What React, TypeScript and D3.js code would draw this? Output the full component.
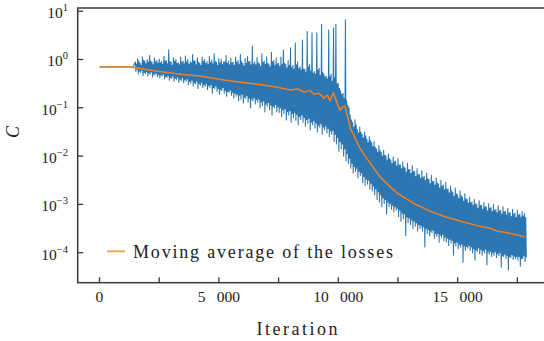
import React from "react";
import * as d3 from "d3";

// Loss history: flat warm-up, then four logged losses per 100 iterations
// (outer high, outer low, inner high, inner low), stored as log10 values.
const warmupIters = [0, 500, 1000, 1400];
const warmupLoss = [0.7, 0.7, 0.7, 0.7];

const swingStart = 1500;
const swingStep = 100;

const outerHighLog10 = [
  -0.05, 0.02, -0.08, 0.05, -0.03, 0.0, 0.08, -0.06, 0.03, -0.02,
  0.01, -0.04, 0.06, -0.02, 0.2, -0.05, 0.04, 0.0, -0.07, 0.05,
  -0.03, 0.07, 0.0, -0.05, 0.1, -0.02, 0.03, -0.08, 0.05, 0.0,
  -0.04, 0.06, -0.01, 0.12, -0.06, 0.02, 0.0, -0.05, 0.08, -0.03,
  0.03, -0.06, 0.05, -0.02, 0.1, -0.08, 0.02, 0.06, -0.04, 0.28,
  -0.05, 0.04, -0.09, 0.12, -0.03, 0.05, -0.1, 0.15, -0.02, 0.03,
  -0.08, 0.05, 0.2, -0.1, -0.02, 0.24, -0.12, 0.34, -0.05, -0.15,
  0.4, -0.2, 0.58, -0.1, 0.55, -0.25, 0.55, -0.18, 0.73, -0.3,
  -0.35, 0.61, -0.3, 0.65, 0.73, -0.5, -0.65, -0.7, 0.82, -0.95,
  -1.15, -1.3, -1.25, -1.45, -1.4, -1.55, -1.5, -1.65, -1.6, -1.72,
  -1.7, -1.85, -1.78, -1.92, -1.88, -2.0, -1.95, -2.08, -2.02, -2.1,
  -2.05, -2.18, -2.12, -2.25, -2.15, -2.28, -2.2, -2.32, -2.26, -2.38,
  -2.3, -2.42, -2.35, -2.48, -2.4, -2.52, -2.45, -2.58, -2.5, -2.6,
  -2.55, -2.68, -2.62, -2.75, -2.66, -2.8, -2.72, -2.85, -2.78, -2.9,
  -2.85, -2.95, -2.9, -3.0, -2.92, -3.02, -2.96, -3.05, -2.98, -3.06,
  -3.0, -3.1, -3.03, -3.12, -3.05, -3.15, -3.08, -3.17, -3.1, -3.18,
  -3.12, -3.2, -3.15, -3.19,
];

const outerLowLog10 = [
  -0.25, -0.3, -0.27, -0.33, -0.29, -0.34, -0.3, -0.36, -0.32, -0.35,
  -0.38, -0.34, -0.4, -0.37, -0.43, -0.39, -0.45, -0.41, -0.47, -0.44,
  -0.48, -0.45, -0.52, -0.49, -0.55, -0.5, -0.6, -0.53, -0.58, -0.56,
  -0.62, -0.58, -0.7, -0.6, -0.66, -0.72, -0.64, -0.7, -0.76, -0.68,
  -0.74, -0.8, -0.76, -0.85, -0.82, -0.9, -0.8, -0.88, -1.0, -0.86,
  -0.92, -0.88, -1.0, -0.95, -1.08, -0.97, -1.04, -1.15, -1.0, -1.08,
  -1.1, -1.18, -1.12, -1.25, -1.15, -1.3, -1.2, -1.26, -1.35, -1.24,
  -1.3, -1.38, -1.32, -1.46, -1.35, -1.42, -1.5, -1.4, -1.55, -1.45,
  -1.52, -1.6, -1.55, -1.7, -1.75, -1.9, -1.85, -2.0, -2.1, -2.15,
  -2.25, -2.35, -2.32, -2.45, -2.4, -2.55, -2.6, -2.58, -2.68, -2.72,
  -2.8, -2.9, -2.95, -3.05, -2.98, -3.2, -3.05, -3.1, -3.15, -3.12,
  -3.25, -3.35, -3.3, -3.65, -3.38, -3.42, -3.5, -3.45, -3.55, -3.5,
  -3.55, -3.88, -3.6, -3.65, -3.58, -3.7, -3.66, -3.78, -3.68, -3.75,
  -3.78, -3.85, -3.8, -4.05, -3.86, -3.92, -3.88, -4.2, -3.95, -3.9,
  -3.95, -4.0, -4.15, -3.97, -4.02, -4.05, -4.0, -4.25, -4.03, -4.08,
  -4.05, -4.1, -4.06, -4.3, -4.08, -4.12, -4.36, -4.1, -4.14, -4.12,
  -4.15, -4.28, -4.12, -4.18,
];

const innerHighLog10 = [
  -0.1, -0.04, -0.12, -0.02, -0.09, -0.06, -0.03, -0.11, -0.05, -0.08,
  -0.07, -0.1, -0.03, -0.09, -0.05, -0.12, -0.04, -0.08, -0.11, -0.06,
  -0.09, -0.05, -0.1, -0.07, -0.03, -0.11, -0.06, -0.12, -0.04, -0.08,
  -0.1, -0.06, -0.09, -0.04, -0.12, -0.07, -0.1, -0.05, -0.08, -0.11,
  -0.07, -0.12, -0.06, -0.1, -0.04, -0.13, -0.08, -0.05, -0.11, -0.09,
  -0.11, -0.07, -0.14, -0.06, -0.1, -0.08, -0.15, -0.05, -0.12, -0.09,
  -0.14, -0.1, -0.08, -0.17, -0.12, -0.16, -0.2, -0.11, -0.18, -0.22,
  -0.2, -0.26, -0.15, -0.24, -0.28, -0.3, -0.22, -0.33, -0.27, -0.36,
  -0.4, -0.35, -0.45, -0.38, -0.5, -0.6, -0.72, -0.8, -0.85, -1.0,
  -1.25, -1.4, -1.35, -1.52, -1.5, -1.62, -1.58, -1.72, -1.68, -1.8,
  -1.82, -1.92, -1.88, -2.0, -1.98, -2.08, -2.05, -2.15, -2.12, -2.2,
  -2.18, -2.26, -2.22, -2.33, -2.28, -2.36, -2.32, -2.42, -2.38, -2.46,
  -2.44, -2.5, -2.47, -2.57, -2.52, -2.6, -2.56, -2.66, -2.62, -2.7,
  -2.68, -2.76, -2.72, -2.83, -2.78, -2.88, -2.82, -2.93, -2.88, -2.97,
  -2.96, -3.02, -2.99, -3.08, -3.02, -3.1, -3.05, -3.13, -3.08, -3.15,
  -3.12, -3.17, -3.13, -3.2, -3.15, -3.22, -3.18, -3.25, -3.2, -3.27,
  -3.22, -3.26, -3.24, -3.27,
];

const innerLowLog10 = [
  -0.2, -0.24, -0.22, -0.27, -0.25, -0.28, -0.26, -0.3, -0.28, -0.31,
  -0.32, -0.3, -0.35, -0.33, -0.37, -0.34, -0.39, -0.36, -0.41, -0.38,
  -0.42, -0.4, -0.45, -0.43, -0.48, -0.45, -0.5, -0.47, -0.52, -0.5,
  -0.54, -0.52, -0.58, -0.55, -0.6, -0.62, -0.58, -0.64, -0.66, -0.63,
  -0.68, -0.7, -0.72, -0.74, -0.72, -0.78, -0.75, -0.8, -0.82, -0.79,
  -0.83, -0.82, -0.88, -0.86, -0.92, -0.89, -0.94, -0.97, -0.93, -0.98,
  -1.0, -1.04, -1.02, -1.08, -1.06, -1.12, -1.1, -1.14, -1.18, -1.15,
  -1.2, -1.24, -1.22, -1.3, -1.27, -1.32, -1.36, -1.33, -1.4, -1.38,
  -1.43, -1.48, -1.47, -1.55, -1.62, -1.7, -1.75, -1.85, -1.95, -2.05,
  -2.15, -2.22, -2.25, -2.32, -2.35, -2.42, -2.48, -2.5, -2.56, -2.62,
  -2.68, -2.74, -2.8, -2.86, -2.9, -2.95, -2.98, -3.02, -3.05, -3.08,
  -3.12, -3.18, -3.2, -3.26, -3.28, -3.32, -3.35, -3.38, -3.42, -3.44,
  -3.46, -3.5, -3.52, -3.55, -3.53, -3.6, -3.6, -3.64, -3.62, -3.68,
  -3.7, -3.72, -3.74, -3.8, -3.78, -3.83, -3.82, -3.86, -3.87, -3.85,
  -3.88, -3.92, -3.95, -3.9, -3.94, -3.96, -3.93, -3.98, -3.97, -4.0,
  -3.98, -4.02, -4.0, -4.06, -4.03, -4.06, -4.08, -4.04, -4.07, -4.08,
  -4.08, -4.12, -4.06, -4.1,
];

// Moving average of the losses (log10)
const avgIters = [
  0, 1300, 1500, 2000, 2500, 3000, 3500, 4200, 5000, 5600, 6300, 7000, 7500,
  8000, 8300, 8600, 8800, 9000, 9200, 9400, 9550, 9650, 9800, 9950, 10070,
  10200, 10280, 10400, 10500, 10700, 10900, 11100, 11330, 11750, 12100, 12450,
  13130, 13840, 14500, 15210, 15900, 16400, 16640, 17200, 17800,
];
const avgLog10 = [
  -0.155, -0.155, -0.17, -0.21, -0.25, -0.28, -0.31, -0.34, -0.41, -0.45,
  -0.49, -0.54, -0.58, -0.63, -0.61, -0.68, -0.64, -0.72, -0.7, -0.8, -0.74,
  -0.86, -0.69, -0.9, -1.05, -0.98, -0.96, -1.2, -1.42, -1.62, -1.83, -1.98,
  -2.14, -2.43, -2.6, -2.76, -2.97, -3.14, -3.26, -3.36, -3.45, -3.5, -3.55,
  -3.6, -3.67,
];

const yTickExps = [1, 0, -1, -2, -3, -4];
const xTickValues = [0, 2500, 5000, 7500, 10000, 12500, 15000, 17500];
const xTickLabels = ["0", "", "5 000", "", "10 000", "", "15 000", ""];

const W = 544;
const H = 341;
const plot = { left: 77.7, right: 546, top: 8, bottom: 282.7 };

const serif = "'Liberation Serif', 'DejaVu Serif', serif";
const spineColor = "#3a3a3a";

export default function App() {
  const x = d3.scaleLinear().domain([-913, 18700]).range([plot.left, plot.right]);
  const y = d3
    .scaleLog()
    .domain([Math.pow(10, -4.621), Math.pow(10, 1.066)])
    .range([plot.bottom, plot.top]);

  const raw: [number, number][] = warmupIters.map((it, i) => [it, warmupLoss[i]]);
  outerHighLog10.forEach((hi, i) => {
    const it = swingStart + i * swingStep;
    raw.push([it, Math.pow(10, hi)]);
    raw.push([it + swingStep * 0.25, Math.pow(10, outerLowLog10[i])]);
    raw.push([it + swingStep * 0.5, Math.pow(10, innerHighLog10[i])]);
    raw.push([it + swingStep * 0.75, Math.pow(10, innerLowLog10[i])]);
  });
  const avg: [number, number][] = avgIters.map((it, i) => [it, Math.pow(10, avgLog10[i])]);

  const line = d3
    .line<[number, number]>()
    .x((d) => x(d[0]))
    .y((d) => y(d[1]));

  return (
    <svg
      width={W}
      height={H}
      style={{ position: "absolute", left: 0, top: 0, background: "#fff" }}
    >
      <defs>
        <clipPath id="plotArea">
          <rect
            x={plot.left}
            y={plot.top}
            width={plot.right - plot.left}
            height={plot.bottom - plot.top}
          />
        </clipPath>
      </defs>

      <g clipPath="url(#plotArea)">
        <path d={line(raw) || ""} fill="none" stroke="#2c77b1" strokeWidth={1.1} strokeLinejoin="round" />
        <path d={line(avg) || ""} fill="none" stroke="#f57f20" strokeWidth={1.5} strokeLinejoin="round" />
      </g>

      {/* frame */}
      <rect
        x={plot.left}
        y={plot.top}
        width={plot.right - plot.left}
        height={plot.bottom - plot.top}
        fill="none"
        stroke={spineColor}
        strokeWidth={1.5}
      />

      {/* y ticks */}
      {yTickExps.map((e) => {
        const py = y(Math.pow(10, e));
        return (
          <g key={e}>
            <line x1={plot.left} x2={plot.left + 5.5} y1={py} y2={py} stroke={spineColor} strokeWidth={1.3} />
            <text
              x={68}
              y={py + 7}
              textAnchor="end"
              fontFamily={serif}
              fontSize={15.5}
              fill="#222"
            >
              10
              <tspan dy={-7} fontSize={10.5}>
                {e < 0 ? "\u2212" + Math.abs(e) : String(e)}
              </tspan>
            </text>
          </g>
        );
      })}

      {/* x ticks */}
      {xTickValues.map((v, i) => {
        const px = x(v);
        return (
          <g key={v}>
            <line x1={px} x2={px} y1={plot.bottom} y2={plot.bottom - 5.5} stroke={spineColor} strokeWidth={1.3} />
            {xTickLabels[i] && (
              <text
                x={px}
                y={302}
                textAnchor="middle"
                fontFamily={serif}
                fontSize={15.5}
                fill="#222"
                style={{ wordSpacing: "7.5px", whiteSpace: "pre" }}
              >
                {xTickLabels[i]}
              </text>
            )}
          </g>
        );
      })}

      {/* axis labels */}
      <text
        x={297}
        y={335}
        textAnchor="middle"
        fontFamily={serif}
        fontSize={18}
        fill="#222"
        textLength={81}
        lengthAdjust="spacing"
      >
        Iteration
      </text>
      <text
        transform="translate(19,132) rotate(-90)"
        textAnchor="middle"
        fontFamily={serif}
        fontStyle="italic"
        fontSize={18}
        fill="#222"
      >
        C
      </text>

      {/* legend */}
      <line x1={107} x2={125} y1={251.3} y2={251.3} stroke="#ff7f0e" strokeOpacity={0.7} strokeWidth={2} />
      <text
        x={133}
        y={258}
        fontFamily={serif}
        fontSize={18}
        fill="#222"
        textLength={260}
        lengthAdjust="spacing"
      >
        Moving average of the losses
      </text>
    </svg>
  );
}
